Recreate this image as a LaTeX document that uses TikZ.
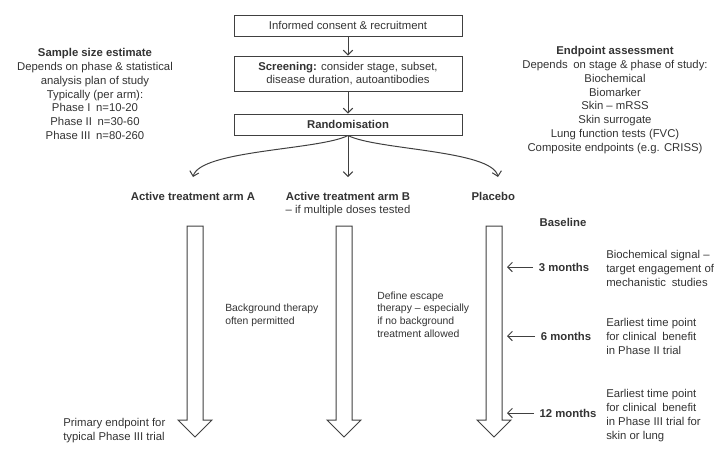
\documentclass[tikz,border=0pt]{standalone}
\usepackage{fontspec}
\setmainfont{Liberation Sans}
\usepackage{tikz}
\usetikzlibrary{arrows.meta, positioning}
\definecolor{inkgray}{RGB}{51,51,51}
\definecolor{linegray}{RGB}{64,64,64}

\begin{document}
\begin{tikzpicture}[
    x=0.75pt, y=-0.75pt,
    font=\fontsize{8.5}{10.3}\selectfont, text=inkgray,
    stagebox/.style={rectangle, draw=linegray, line width=0.75pt, minimum width=171pt, inner sep=1pt, align=center},
    arrow/.style={-{Straight Barb[length=3.5pt, width=7pt]}, draw=linegray, line width=0.75pt},
    armlbl/.style={inner sep=0pt, align=center},
    infotext/.style={inner sep=0pt, align=center},
    timelbl/.style={inner sep=4pt, font=\fontsize{8.5}{10.3}\selectfont\bfseries},
    notetext/.style={inner sep=0pt, anchor=west, align=left},
    smallnote/.style={notetext, font=\fontsize{7.8}{9.6}\selectfont},
    bigarrow/.style={draw=linegray, line width=0.75pt, fill=white}
]
    \useasboundingbox (0,0) rectangle (728,465);

    % Flow of recruitment
    \node[stagebox, minimum height=15.75pt] (consent) at (348,25.5) {Informed consent \& recruitment};
    \node[stagebox, minimum height=26.25pt] (screen) at (348,73.5) {\textbf{Screening:} consider stage, subset,\\disease duration, autoantibodies};
    \node[stagebox, minimum height=15.75pt] (random) at (348,124.5) {\textbf{Randomisation}};
    \draw[arrow] (consent) -- (screen);
    \draw[arrow] (screen) -- (random);

    % Arms
    \coordinate (tipA) at (193,177);
    \coordinate (tipB) at (348,177);
    \coordinate (tipP) at (498,177);
    \node[armlbl, below=11pt of tipA] (armA) {\textbf{Active treatment arm A}};
    \node[armlbl, below=11pt of tipB] (armB) {\textbf{Active treatment arm B}\\– if multiple doses tested};
    \node[armlbl, below=11pt of tipP, xshift=-3.5pt] (placebo) {\textbf{Placebo}};
    \draw[arrow] (random.south) .. controls (320,150) and (200,150) .. (tipA);
    \draw[arrow] (random.south) -- (tipB);
    \draw[arrow] (random.south) .. controls (376,150) and (492,150) .. (tipP);

    % Side notes
    \node[infotext] (sample) at (95,94) {\textbf{Sample size estimate}\\Depends on phase \& statistical\\analysis plan of study\\Typically (per arm):\\Phase I\enspace n=10-20\\Phase II\enspace n=30-60\\Phase III\enspace n=80-260};
    \node[infotext] (endpoint) at (615,100) {\textbf{Endpoint assessment}\\Depends\enspace on stage \& phase of study:\\Biochemical\\Biomarker\\Skin – mRSS\\Skin surrogate\\Lung function tests (FVC)\\Composite endpoints (e.g. CRISS)};

    % Time arrows of the arms
    \foreach \cx in {195,344,494}
        \draw[bigarrow] (\cx-8,226) -- (\cx-8,420) -- (\cx-17,420) -- (\cx,437)
            -- (\cx+17,420) -- (\cx+8,420) -- (\cx+8,226) -- cycle;

    \node[smallnote] (background) at (225,315.5) {Background therapy\\often permitted};
    \node[smallnote] (escape) at (377,314.5) {Define escape\\therapy – especially\\if no background\\treatment allowed};
    \node[notetext] (primary) at (63,430.5) {Primary endpoint for\\typical Phase III trial};

    % Time points
    \node[font=\fontsize{8.5}{10.3}\selectfont\bfseries, inner sep=0pt] (baseline) at (563,222) {Baseline};
    \coordinate (placR) at (507,0);
    \node[timelbl] (m3) at (564,267) {3 months};
    \node[timelbl] (m6) at (566,336) {6 months};
    \node[timelbl] (m12) at (568,413) {12 months};
    \draw[arrow] (m3.west) -- (m3.west -| placR);
    \draw[arrow] (m6.west) -- (m6.west -| placR);
    \draw[arrow] (m12.west) -- (m12.west -| placR);

    \node[notetext] (signal) at (606,268.5) {Biochemical signal –\\target engagement of\\mechanistic\enspace studies};
    \node[notetext] (phase2) at (606,336.5) {Earliest time point\\for clinical\enspace benefit\\in Phase II trial};
    \node[notetext] (phase3) at (606,415.5) {Earliest time point\\for clinical\enspace benefit\\in Phase III trial for\\skin or lung};
\end{tikzpicture}
\end{document}
